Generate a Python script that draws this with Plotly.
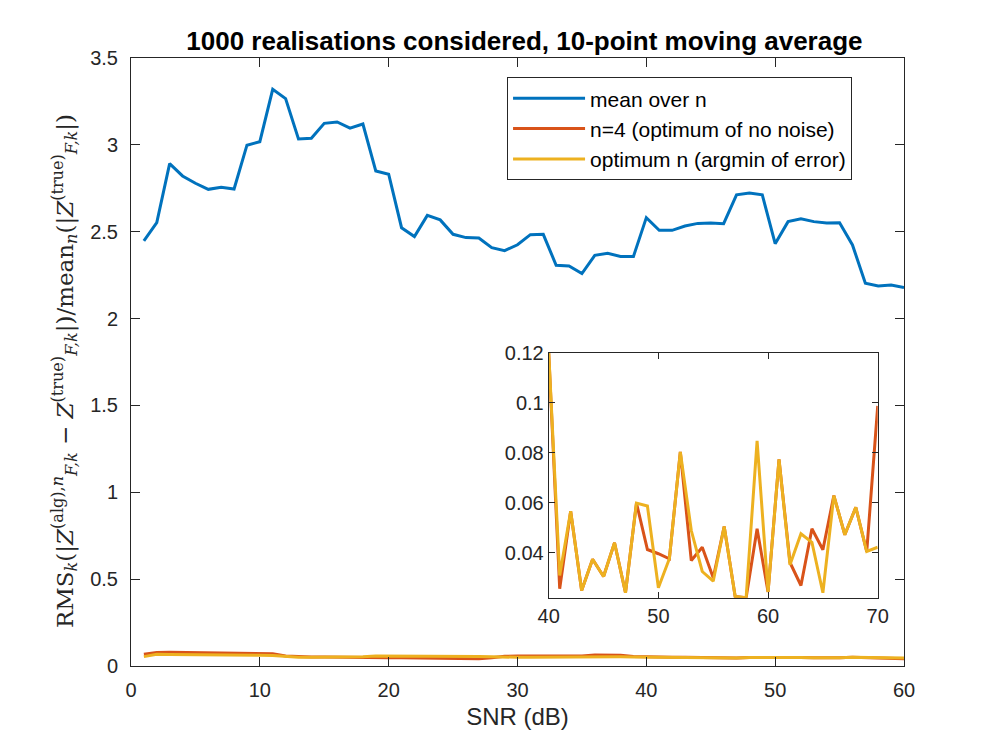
import plotly.graph_objects as go

# ---------------- data ----------------
snr = list(range(1, 61))
mean_over_n = [2.447, 2.552, 2.892, 2.821, 2.779, 2.744, 2.756, 2.746, 2.998, 3.018,
               3.320, 3.266, 3.034, 3.038, 3.124, 3.132, 3.096, 3.120, 2.850, 2.831,
               2.523, 2.472, 2.594, 2.568, 2.485, 2.466, 2.464, 2.408, 2.391, 2.425,
               2.483, 2.485, 2.307, 2.303, 2.259, 2.364, 2.376, 2.358, 2.358, 2.581,
               2.508, 2.508, 2.533, 2.548, 2.550, 2.546, 2.712, 2.723, 2.712, 2.431,
               2.558, 2.575, 2.558, 2.550, 2.552, 2.424, 2.203, 2.188, 2.193, 2.178]
n4_main = [0.068, 0.078, 0.079, 0.078, 0.077, 0.076, 0.075, 0.074, 0.073, 0.072,
           0.070, 0.058, 0.053, 0.052, 0.052, 0.052, 0.051, 0.050, 0.049, 0.048,
           0.047, 0.046, 0.046, 0.045, 0.044, 0.043, 0.042, 0.048, 0.056, 0.057,
           0.057, 0.058, 0.058, 0.057, 0.058, 0.063, 0.063, 0.062, 0.055, 0.052,
           0.051, 0.050, 0.050, 0.049, 0.046, 0.044, 0.046, 0.049, 0.050, 0.050,
           0.049, 0.049, 0.047, 0.046, 0.047, 0.050, 0.049, 0.046, 0.044, 0.042]
opt_main = [0.054, 0.067, 0.066, 0.066, 0.065, 0.064, 0.064, 0.063, 0.063, 0.062,
            0.061, 0.055, 0.051, 0.050, 0.050, 0.050, 0.051, 0.053, 0.057, 0.057,
            0.057, 0.057, 0.057, 0.058, 0.056, 0.055, 0.055, 0.053, 0.050, 0.050,
            0.050, 0.051, 0.051, 0.050, 0.050, 0.054, 0.054, 0.053, 0.052, 0.051,
            0.051, 0.050, 0.050, 0.049, 0.046, 0.043, 0.046, 0.049, 0.050, 0.050,
            0.050, 0.049, 0.047, 0.046, 0.047, 0.050, 0.050, 0.048, 0.047, 0.046]

snr_inset = list(range(40, 71))
n4_inset = [0.120, 0.0255, 0.0565, 0.0248, 0.0373, 0.0304, 0.0439, 0.0239, 0.0598, 0.0412,
            0.0395, 0.0375, 0.0803, 0.0368, 0.0421, 0.0299, 0.0504, 0.0224, 0.0219, 0.0495,
            0.0242, 0.0773, 0.0360, 0.0268, 0.0495, 0.0411, 0.0628, 0.0471, 0.0581, 0.0404,
            0.0987]
opt_inset = [0.120, 0.0308, 0.0565, 0.0248, 0.0373, 0.0304, 0.0439, 0.0239, 0.0598, 0.0586,
             0.0259, 0.0375, 0.0803, 0.0488, 0.0324, 0.0285, 0.0504, 0.0224, 0.0219, 0.0847,
             0.0242, 0.0773, 0.0351, 0.0475, 0.0441, 0.0239, 0.0628, 0.0471, 0.0581, 0.0404,
             0.0421]

names = ["mean over n", "n=4 (optimum of no noise)", "optimum n (argmin of error)"]
colors = ["#0072BD", "#D95319", "#EDB120"]
title_text = "1000 realisations considered, 10-point moving average"
x_title = "SNR (dB)"
y_title = ("RMS<sub><i>k</i></sub>(|<i>Z</i><sup>(alg),<i>n</i></sup><sub><i>F,k</i></sub> − "
           "<i>Z</i><sup>(true)</sup><sub><i>F,k</i></sub>|)/mean<sub><i>n</i></sub>"
           "(|<i>Z</i><sup>(true)</sup><sub><i>F,k</i></sub>|)")

SANS = "Liberation Sans, Arial, Helvetica"

# ---------------- figure ----------------
fig = go.Figure()
for y, nm, c in zip([mean_over_n, n4_main, opt_main], names, colors):
    fig.add_trace(go.Scatter(x=snr, y=y, mode="lines", name=nm,
                             line=dict(color=c, width=3), xaxis="x", yaxis="y"))
for y, c in zip([n4_inset, opt_inset], colors[1:]):
    fig.add_trace(go.Scatter(x=snr_inset, y=y, mode="lines", showlegend=False,
                             line=dict(color=c, width=3), xaxis="x2", yaxis="y2"))

axis_common = dict(showline=True, linecolor="#262626", linewidth=1, mirror="ticks",
                   ticks="inside", tickcolor="#262626", showgrid=False, zeroline=False,
                   tickfont=dict(family=SANS, size=20, color="#262626"))

fig.update_layout(
    width=996, height=747,
    margin=dict(l=123, r=100, t=50, b=89),
    paper_bgcolor="white", plot_bgcolor="white",
    title=dict(text="<b>" + title_text + "</b>", x=0.5185, xanchor="center",
               y=1 - 33 / 747, yanchor="middle",
               font=dict(family=SANS, size=26, color="black")),
    xaxis=dict(range=[0, 60], dtick=10, ticklen=9, domain=[0, 1], ticklabelstandoff=6,
               title=dict(text=x_title, standoff=8,
                          font=dict(family=SANS, size=24, color="#262626")),
               **axis_common),
    yaxis=dict(range=[0, 3.5], dtick=0.5, ticklen=9, domain=[0, 1], ticklabelstandoff=8,
               **axis_common),
    xaxis2=dict(range=[40, 70], dtick=10, ticklen=6, domain=[0.5404, 0.966],
                anchor="y2", **axis_common),
    yaxis2=dict(range=[0.0219, 0.120], tickvals=[0.04, 0.06, 0.08, 0.1, 0.12],
                ticktext=["0.04", "0.06", "0.08", "0.1", "0.12"], ticklen=6,
                domain=[0.1123, 0.5153], anchor="x2", **axis_common),
    legend=dict(x=0.9328, xanchor="right", y=0.9685, yanchor="top",
                bgcolor="white", bordercolor="#262626", borderwidth=1,
                itemwidth=72, tracegroupgap=0,
                font=dict(family=SANS, size=21, color="black")),
    showlegend=True,
    annotations=[dict(text=y_title, textangle=-90, xref="paper", yref="paper",
                      x=-0.0867, y=0.485, xanchor="center", yanchor="middle",
                      showarrow=False,
                      font=dict(family="DejaVu Serif, Liberation Serif", size=23,
                                color="#262626"))],
)

fig.write_html("out.html")
